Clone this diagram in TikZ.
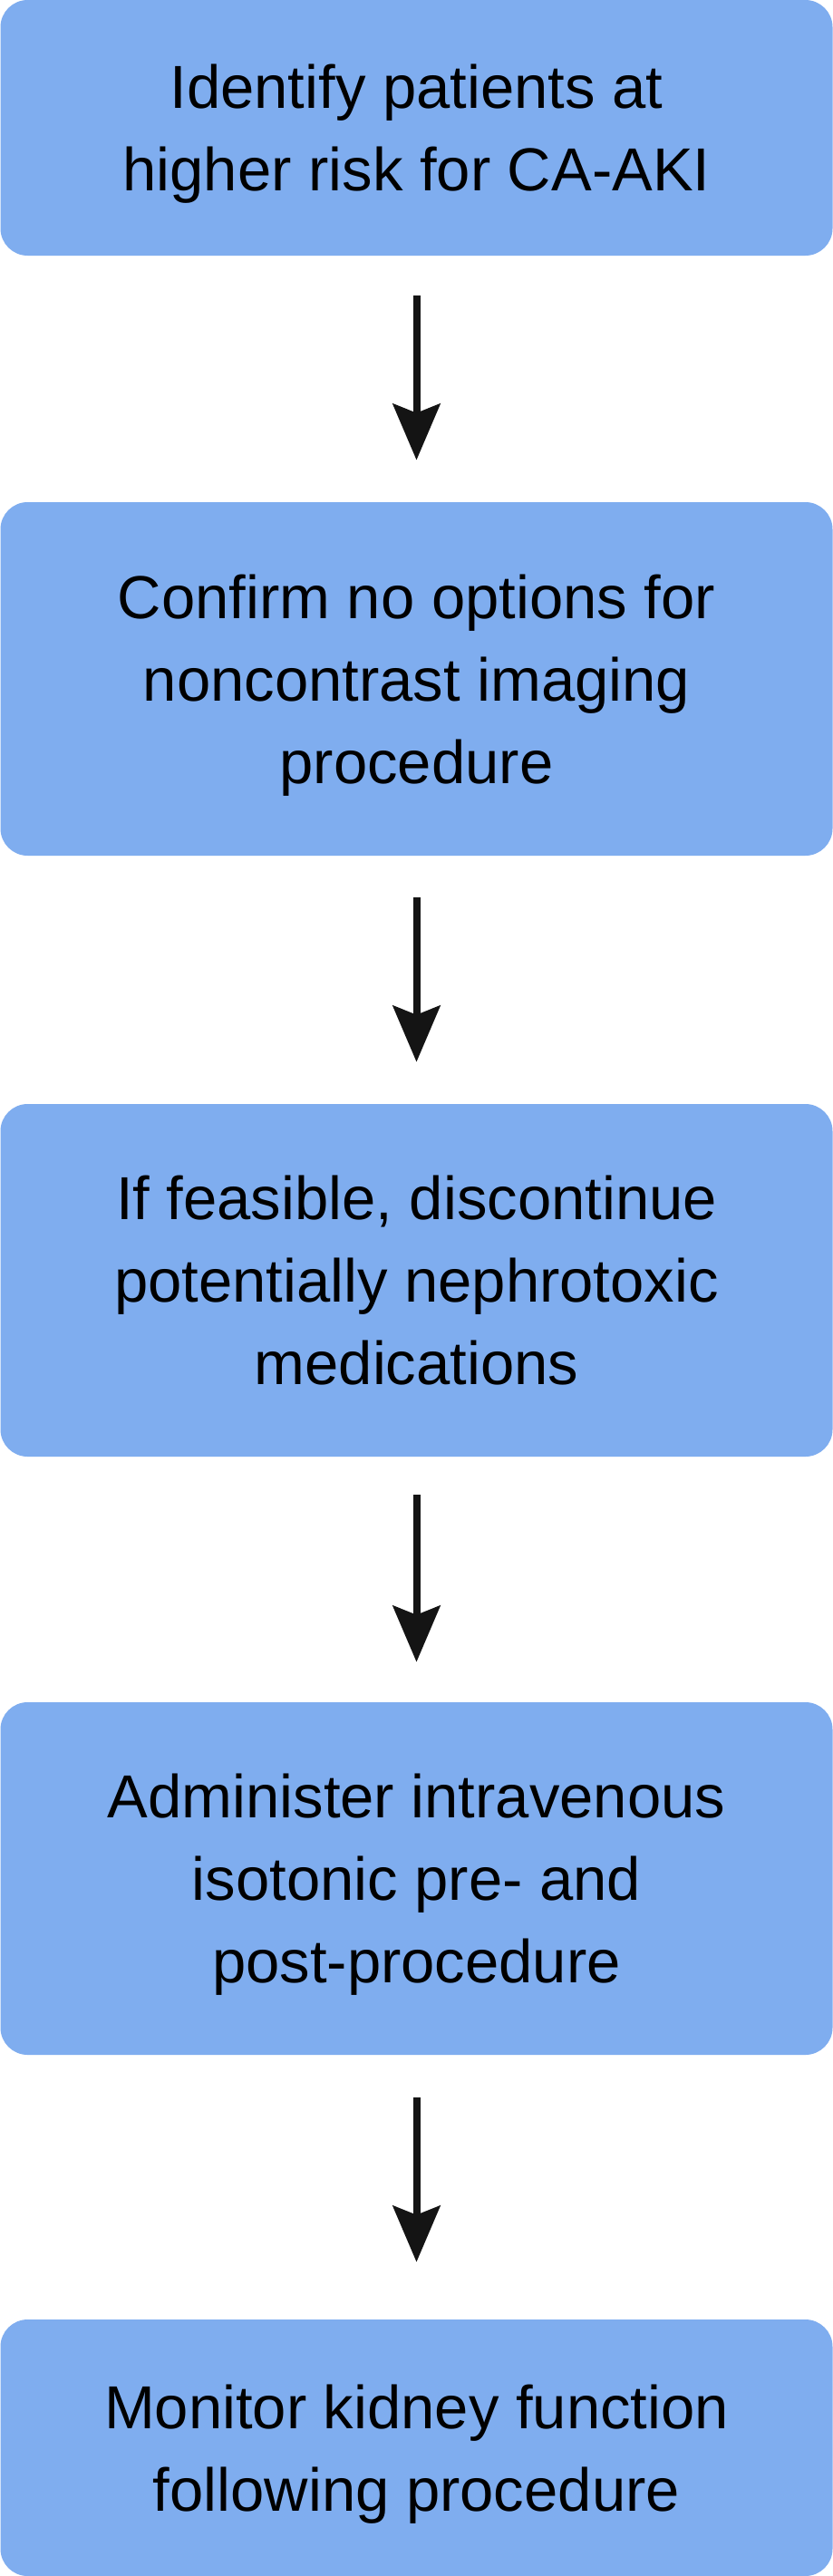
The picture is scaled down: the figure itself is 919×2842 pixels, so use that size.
\documentclass[tikz,border=0pt]{standalone}
\usepackage{fontspec}
\setmainfont{Liberation Sans}
\usetikzlibrary{arrows.meta}

\definecolor{stepblue}{RGB}{127,173,239}

\tikzset{
    stepbox/.style={fill=stepblue, draw=none, rounded corners=15pt,
        minimum width=459pt, inner sep=0pt, align=center, text depth=0pt,
        font=\fontsize{33.5}{45.5}\selectfont},
    steparrow/.style={line width=4pt, black!92,
        -{Stealth[length=31pt, width=26pt, inset=5pt]}}
}

\begin{document}
\begin{tikzpicture}[x=0.5pt, y=-0.5pt]
    % Cadre de la figure
    \fill[white] (0,0) rectangle (919,2842);
    \useasboundingbox (0,0) rectangle (919,2842);

    % Les etapes
    \node[stepbox, minimum height=141pt] (identify) at (459.5,141) {Identify patients at\\higher risk for CA-AKI};
    \node[stepbox, minimum height=195pt] (confirm) at (459.5,749) {Confirm no options for\\noncontrast imaging\\procedure};
    \node[stepbox, minimum height=194.5pt] (discontinue) at (459.5,1412.5) {If feasible, discontinue\\potentially nephrotoxic\\medications};
    \node[stepbox, minimum height=194.5pt] (hydrate) at (459.5,2072.5) {Administer intravenous\\isotonic pre- and\\post-procedure};
    \node[stepbox, minimum height=141.5pt] (monitor) at (459.5,2700.5) {Monitor kidney function\\following procedure};

    % Les fleches entre les etapes
    \foreach \a/\b/\s/\e in {identify/confirm/22pt/23pt, confirm/discontinue/23pt/23pt,
        discontinue/hydrate/21pt/22pt, hydrate/monitor/23.5pt/31.5pt} {
        \draw[steparrow, shorten <=\s, shorten >=\e] (\a.south) -- (\b.north);
    }
\end{tikzpicture}
\end{document}
